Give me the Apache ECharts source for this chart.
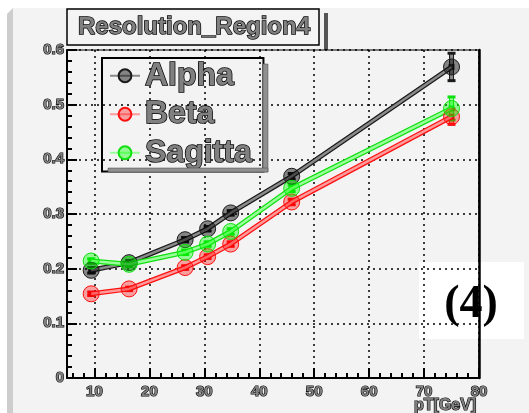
<!DOCTYPE html>
<html>
<head>
<meta charset="utf-8">
<script src="https://cdn.jsdelivr.net/npm/echarts@6/dist/echarts.min.js"></script>
<style>
  html, body { margin: 0; padding: 0; background: #fff; }
  #chart { width: 529px; height: 413px; }
</style>
</head>
<body>
<div id="chart"></div>
<script>
// pT points (GeV) and resolution values
const pt = [9.4, 16.3, 26.5, 30.6, 34.8, 45.9, 75];
const alpha = [0.197, 0.211, 0.253, 0.273, 0.302, 0.369, 0.569];
const beta = [0.154, 0.163, 0.202, 0.222, 0.245, 0.322, 0.478];
const sagitta = [0.214, 0.208, 0.230, 0.245, 0.268, 0.347, 0.493];
const alphaErr = [0.006, 0.005, 0.005, 0.005, 0.005, 0.006, 0.026];
const betaErr = [0.004, 0.004, 0.004, 0.004, 0.005, 0.006, 0.015];
const sagittaErr = [0.005, 0.005, 0.005, 0.005, 0.006, 0.007, 0.022];
const names = ['Alpha', 'Beta', 'Sagitta'];

const chart = echarts.init(document.getElementById('chart'));

const styles = [
  { edge: '#1a1a1a', inner: '#8a8a8a', fill: 'rgba(0,0,0,0.45)', dot: '#111' },
  { edge: '#ff1010', inner: '#ff9a9a', fill: 'rgba(255,0,0,0.35)', dot: '#e00000' },
  { edge: '#10e010', inner: '#9aff9a', fill: 'rgba(0,255,0,0.4)', dot: '#00cc00' },
];

const outline = {
  color: '#808080',
  textBorderColor: '#000',
  textBorderWidth: 1.2,
  fontWeight: 'bold',
  fontFamily: 'Liberation Sans',
};

const pairs = (ys) => pt.map((x, i) => [x, ys[i]]);

const seriesData = [];
[alpha, beta, sagitta].forEach((ys, idx) => {
  const st = styles[idx];
  const errs = [alphaErr, betaErr, sagittaErr][idx];
  seriesData.push({
    type: 'line',
    name: names[idx] + '_edge',
    data: pairs(ys),
    symbol: 'none',
    silent: true,
    lineStyle: { width: 5, color: st.edge },
  });
  seriesData.push({
    type: 'custom',
    name: names[idx] + '_err',
    data: pt.map((x, i) => [x, ys[i] - errs[i], ys[i] + errs[i]]),
    renderItem: (params, api) => {
      const lo = api.coord([api.value(0), api.value(1)]);
      const hi = api.coord([api.value(0), api.value(2)]);
      return {
        type: 'group',
        children: [
          {
            type: 'rect',
            shape: { x: lo[0] - 2, y: hi[1], width: 4, height: lo[1] - hi[1] },
            style: { fill: st.inner, stroke: st.edge, lineWidth: 1 },
          },
          {
            type: 'rect',
            shape: { x: hi[0] - 4, y: hi[1] - 1, width: 8, height: 3 },
            style: { fill: st.edge },
          },
          {
            type: 'rect',
            shape: { x: lo[0] - 4, y: lo[1] - 2, width: 8, height: 3 },
            style: { fill: st.edge },
          },
        ],
      };
    },
  });
  seriesData.push({
    type: 'line',
    name: names[idx],
    data: pairs(ys),
    symbol: 'circle',
    symbolSize: 16,
    lineStyle: { width: 2.5, color: st.inner },
    itemStyle: { color: st.fill, borderColor: st.edge, borderWidth: 1 },
  });
  seriesData.push({
    type: 'scatter',
    name: names[idx] + '_dot',
    data: pairs(ys),
    symbol: 'rect',
    symbolSize: 6,
    itemStyle: { color: st.dot },
  });
});

chart.setOption({
  animation: false,
  backgroundColor: '#ffffff',
  title: {
    text: 'Resolution_Region4',
    left: 67,
    top: 9,
    padding: [6, 9, 6, 11],
    backgroundColor: '#f4f4f4',
    borderColor: '#000',
    borderWidth: 1.5,
    textStyle: Object.assign({}, outline, { fontSize: 24, textBorderWidth: 1.4 }),
  },
  legend: {
    data: names,
    orient: 'vertical',
    left: 102,
    top: 58,
    padding: [1, 11, 2, 7],
    itemGap: 5,
    itemWidth: 30,
    itemHeight: 16,
    borderColor: '#000',
    borderWidth: 2,
    textStyle: Object.assign({}, outline, { fontSize: 32, textBorderWidth: 1.5 }),
  },
  grid: {
    left: 67,
    right: 50,
    top: 50,
    bottom: 35,
    outerBoundsMode: 'none',
    show: true,
    borderColor: '#000',
    borderWidth: 1,
  },
  xAxis: {
    type: 'value',
    min: 5,
    max: 80,
    splitNumber: 8,
    name: 'pT[GeV]',
    nameLocation: 'end',
    nameGap: -65,
    nameMoveOverlap: false,
    nameTextStyle: Object.assign({}, outline, {
      fontSize: 16,
      align: 'left',
      verticalAlign: 'top',
      padding: [20, 0, 0, 0],
    }),
    axisLine: { lineStyle: { color: '#000', width: 2 } },
    axisTick: { inside: true, length: 10, lineStyle: { color: '#000', width: 2 } },
    minorTick: { show: true, splitNumber: 5, length: 5, lineStyle: { color: '#000', width: 2 } },
    axisLabel: Object.assign({}, outline, { fontSize: 15, margin: 6, showMinLabel: false }),
    splitLine: { lineStyle: { color: '#000', type: [2, 4], width: 1.5 } },
  },
  yAxis: [
    {
      type: 'value',
      min: 0,
      max: 0.6,
      interval: 0.1,
      axisLine: { show: true, lineStyle: { color: '#000', width: 2 } },
      axisTick: { inside: true, length: 10, lineStyle: { color: '#000', width: 2 } },
      minorTick: { show: true, splitNumber: 5, length: 5, lineStyle: { color: '#000', width: 2 } },
      axisLabel: Object.assign({}, outline, { fontSize: 15, margin: 3 }),
      splitLine: { lineStyle: { color: '#000', type: [2, 4], width: 1.5 } },
    },
    {
      type: 'value',
      position: 'right',
      min: 0,
      max: 0.6,
      axisLine: { show: true, lineStyle: { color: '#000', width: 2.5 } },
      axisTick: { show: false },
      axisLabel: { show: false },
      splitLine: { show: false },
    },
  ],
  graphic: [
    { type: 'rect', z: -10, shape: { x: 13, y: 8, width: 516, height: 405 }, style: { fill: '#f3f3f3' } },
    { type: 'polygon', z: -10, shape: { points: [[7, 14], [13, 8], [13, 413], [7, 413]] }, style: { fill: '#cdcdcd' } },
    // title + legend drop shadows
    { type: 'rect', z: -5, shape: { x: 324, y: 13, width: 4, height: 37 }, style: { fill: '#555' } },
    { type: 'rect', z: 5, shape: { x: 263, y: 64, width: 5, height: 108 }, style: { fill: '#909090', stroke: '#444', lineWidth: 0.5 } },
    { type: 'rect', z: 5, shape: { x: 108, y: 168, width: 160, height: 4 }, style: { fill: '#909090', stroke: '#444', lineWidth: 0.5 } },
    {
      type: 'group',
      z: 20,
      children: [
        { type: 'rect', shape: { x: 419, y: 262, width: 105, height: 77 }, style: { fill: '#fff' } },
        {
          type: 'text',
          x: 471,
          y: 305,
          style: {
            text: '(4)',
            fill: '#000',
            font: 'bold 46px "Liberation Serif"',
            align: 'center',
            verticalAlign: 'middle',
          },
        },
      ],
    },
  ],
  series: seriesData,
});
</script>
</body>
</html>
